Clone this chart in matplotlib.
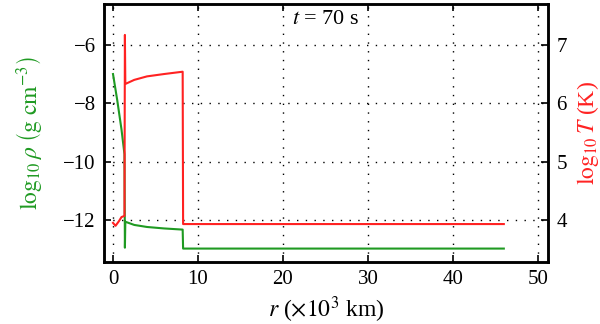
import matplotlib
matplotlib.use("Agg")
import matplotlib.pyplot as plt

plt.rcParams['font.family'] = ['Liberation Serif', 'DejaVu Serif']
plt.rcParams['mathtext.fontset'] = 'stix'

# radius (x10^3 km)
r_rho = [0.0, 0.5, 1.0, 1.35, 1.4, 1.45, 2.5, 4.0, 6.0, 8.2, 8.25, 20.0, 46.0]
log_rho = [-7.0, -7.9, -8.9, -9.75, -12.95, -12.06, -12.17, -12.24, -12.29, -12.33, -12.98, -12.98, -12.98]

r_T = [0.0, 0.3, 0.7, 1.0, 1.35, 1.4, 1.45, 2.5, 4.0, 6.0, 8.2, 8.25, 20.0, 46.0]
log_T = [3.95, 3.9, 3.98, 4.05, 4.07, 7.17, 6.33, 6.40, 6.46, 6.50, 6.54, 3.93, 3.93, 3.93]

x_ticks = [0, 10, 20, 30, 40, 50]
rho_ticks = [-12, -10, -8, -6]
T_ticks = [4, 5, 6, 7]

green = '#1f9a22'
red = '#ff2222'

fig = plt.figure(figsize=(6.0, 3.24), dpi=100)
ax = fig.add_axes([104/600, 1 - 262/324, 444/600, 258/324])
ax2 = ax.twinx()

ax.plot(r_rho, log_rho, color=green, lw=1.5, zorder=3)
ax2.plot(r_T, log_T, color=red, lw=1.5, zorder=3)

ax.set_xlim(-1.06, 51.2)
ax.set_ylim(-13.44, -4.6)
ax2.set_ylim(3.28, 7.70)

ax.set_xticks(x_ticks)
ax.set_yticks(rho_ticks)
ax.set_yticklabels(['\u221212', '\u221210', '\u22128', '\u22126'])
ax2.set_yticks(T_ticks)

ax.grid(True, color='black', linestyle=(0, (1, 5.3)), lw=1.0)
ax.tick_params(axis='both', direction='in', length=5, width=1.2, labelsize=15, top=True, pad=6)
ax2.tick_params(axis='y', direction='in', length=5, width=1.2, labelsize=15, pad=6)
for a in (ax, ax2):
    for s in a.spines.values():
        s.set_linewidth(1.8)

ax.set_xlabel(r'$r$ ($\times10^3$ km)', fontsize=17, labelpad=4)
ax.set_ylabel(r'$\log_{10}\rho\ \left(\mathrm{g\ cm^{-3}}\right)$', color=green, fontsize=17, labelpad=14)
ax2.set_ylabel(r'$\log_{10}T$ (K)', color=red, fontsize=17, labelpad=6)

ax.text(0.5, 0.975, r'$t$ = 70 s', transform=ax.transAxes, ha='center', va='top', fontsize=16,
        bbox=dict(facecolor='white', edgecolor='none', pad=1.0), zorder=5)

fig.savefig('out.png', dpi=100)
